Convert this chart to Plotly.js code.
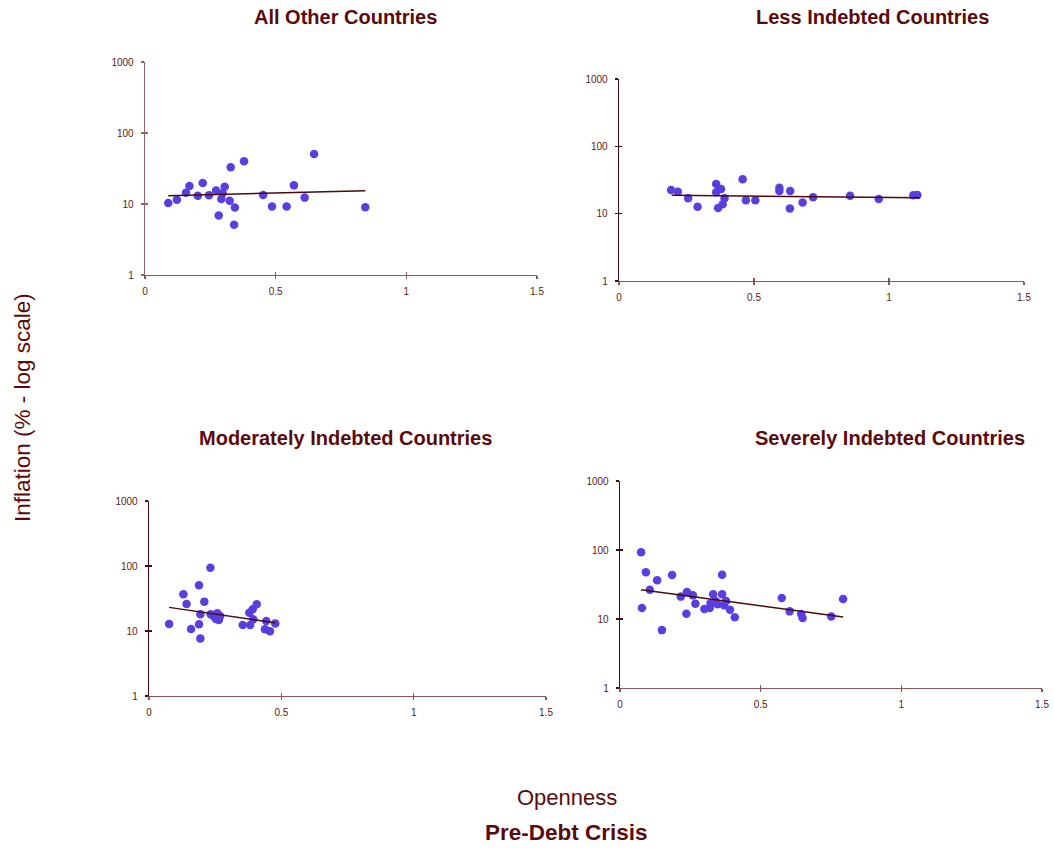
<!DOCTYPE html>
<html>
<head>
<meta charset="utf-8">
<script src="https://cdn.plot.ly/plotly-3.0.1.min.js"></script>
<style>html,body{margin:0;padding:0;background:#fff;}#chart{width:1054px;height:850px;}</style>
</head>
<body>
<div id="chart"></div>
<script>
// Panel titles
const panelTitles = ["All Other Countries", "Less Indebted Countries", "Moderately Indebted Countries", "Severely Indebted Countries"];

// All Other Countries
const otherX = [0.089,0.122,0.157,0.170,0.202,0.221,0.245,0.272,0.282,0.292,0.297,0.305,0.324,0.328,0.341,0.344,0.379,0.452,0.486,0.542,0.570,0.611,0.647,0.843];
const otherY = [10.3,11.5,14.4,17.9,13.1,19.8,13.3,15.5,6.9,11.8,14.2,17.5,11.1,32.9,5.1,8.9,39.9,13.4,9.2,9.2,18.3,12.3,50.6,9.0];
const otherTrendX = [0.089, 0.843];
const otherTrendY = [13.1, 15.4];

// Less Indebted Countries
const lessX = [0.193,0.218,0.256,0.291,0.360,0.378,0.360,0.391,0.384,0.367,0.458,0.470,0.505,0.594,0.594,0.634,0.633,0.680,0.719,0.856,0.962,1.090,1.105];
const lessY = [22.5,21.2,16.9,12.7,27.6,23.2,20.8,16.9,13.8,12.1,32.4,15.8,15.8,24.3,21.7,21.7,11.9,14.6,17.5,18.5,16.5,18.7,18.9];
const lessTrendX = [0.195, 1.115];
const lessTrendY = [18.7, 17.3];

// Moderately Indebted Countries
const modX = [0.076,0.130,0.142,0.159,0.189,0.189,0.194,0.194,0.209,0.232,0.233,0.246,0.258,0.264,0.269,0.253,0.354,0.382,0.379,0.394,0.392,0.407,0.443,0.438,0.457,0.477];
const modY = [12.8,36.7,26.0,10.7,50.5,12.7,7.7,18.1,28.3,94.1,18.1,16.6,18.7,14.8,17.0,15.3,12.4,12.4,19.1,15.1,21.6,25.8,14.2,10.6,9.9,13.1];
const modTrendX = [0.076, 0.477];
const modTrendY = [23.1, 13.4];

// Severely Indebted Countries
const sevX = [0.075,0.078,0.092,0.106,0.132,0.149,0.185,0.216,0.236,0.238,0.259,0.268,0.300,0.319,0.322,0.331,0.340,0.347,0.363,0.363,0.370,0.377,0.391,0.408,0.575,0.603,0.644,0.649,0.751,0.793];
const sevY = [92.5,14.4,47.5,26.6,36.4,6.9,43.4,21.1,11.9,24.6,22.0,16.7,14.0,14.4,16.9,22.8,18.2,16.3,43.9,22.8,15.8,18.2,13.6,10.6,20.2,12.9,11.8,10.3,10.9,19.5];
const sevTrendX = [0.075, 0.793];
const sevTrendY = [26.6, 10.7];

// Axis ticks
const xTickVals = [0, 0.5, 1, 1.5];
const xTickText = ["0", "0.5", "1", "1.5"];
const yTickVals = [1, 10, 100, 1000];
const yTickText = ["1", "10", "100", "1000"];

const W = 1054, H = 850;
// pixel boxes [left, right, top, bottom]
const boxes = [[145,537,62,275],[619,1024,79,281],[149,546,501,696],[620,1042,481,688]];
const titlePos = [[345,17],[872,17],[345,438],[890,438]];
const yAxisColors = ['#946262', '#4a0a12', '#4a0a12', '#4a0a12'];
const xAxisColor = '#8a5656';

const markerColor = '#5a3ee0';
const trendColor = '#4a0a0a';
const textColor = '#5a0a0a';
const FONT = 'Liberation Sans, Arial, sans-serif';

const sets = [
  [otherX, otherY, otherTrendX, otherTrendY],
  [lessX, lessY, lessTrendX, lessTrendY],
  [modX, modY, modTrendX, modTrendY],
  [sevX, sevY, sevTrendX, sevTrendY]
];

const traces = [];
const layout = {
  width: W, height: H,
  margin: {l:0, r:0, t:0, b:0},
  paper_bgcolor: '#fff', plot_bgcolor: '#fff',
  showlegend: false,
  font: {family: FONT, color: textColor},
  annotations: []
};

sets.forEach((s, i) => {
  const n = i + 1;
  const xa = n === 1 ? 'x' : 'x' + n;
  const ya = n === 1 ? 'y' : 'y' + n;
  traces.push({x: s[0], y: s[1], type: 'scatter', mode: 'markers', xaxis: xa, yaxis: ya,
    marker: {color: markerColor, size: 8.5}, cliponaxis: false});
  traces.push({x: s[2], y: s[3], type: 'scatter', mode: 'lines', xaxis: xa, yaxis: ya,
    line: {color: trendColor, width: 1.5}});
  const b = boxes[i];
  const common = {showline: true, linewidth: 1.3, ticks: 'outside', ticklen: 3,
    tickwidth: 1.3, showgrid: false, zeroline: false, fixedrange: true,
    tickfont: {size: 10, color: '#5a1a1a', family: FONT}};
  const xDom = [b[0]/W, b[1]/W];
  const yDom = [1 - b[3]/H, 1 - b[2]/H];
  layout['xaxis' + (n === 1 ? '' : n)] = Object.assign({}, common, {
    domain: xDom, range: [0, 1.5], anchor: ya, linecolor: xAxisColor, tickcolor: xAxisColor,
    tickmode: 'array', tickvals: xTickVals, ticktext: xTickText, ticklabelstandoff: 4});
  layout['yaxis' + (n === 1 ? '' : n)] = Object.assign({}, common, {
    domain: yDom, type: 'log', range: [0, 3], anchor: xa, linecolor: yAxisColors[i], tickcolor: yAxisColors[i],
    tickmode: 'array', tickvals: yTickVals, ticktext: yTickText, ticklabelstandoff: 5});
  // overlay axes for inside half of the crossing tick marks
  const ox = 'xaxis' + (n + 4), oy = 'yaxis' + (n + 4);
  layout[ox] = {domain: xDom, range: [0, 1.5], overlaying: xa, anchor: ya, side: 'bottom',
    tickmode: 'array', tickvals: xTickVals, ticks: 'inside', ticklen: 3, tickwidth: 1.3, tickcolor: xAxisColor,
    showticklabels: false, showline: false, showgrid: false, zeroline: false, fixedrange: true};
  layout[oy] = {domain: yDom, type: 'log', range: [0, 3], overlaying: ya, anchor: xa, side: 'left',
    tickmode: 'array', tickvals: yTickVals, ticks: 'inside', ticklen: 3, tickwidth: 1.3, tickcolor: yAxisColors[i],
    showticklabels: false, showline: false, showgrid: false, zeroline: false, fixedrange: true};
  traces.push({x: [], y: [], type: 'scatter', mode: 'markers', xaxis: 'x' + (n + 4), yaxis: 'y' + (n + 4), hoverinfo: 'skip'});
  layout.annotations.push({text: '<b>' + panelTitles[i] + '</b>', xref: 'paper', yref: 'paper',
    x: titlePos[i][0]/W, y: 1 - titlePos[i][1]/H, xanchor: 'center', yanchor: 'middle', showarrow: false,
    font: {size: 20, color: textColor, family: FONT}});
});

layout.annotations.push({text: 'Inflation (% - log scale)', xref: 'paper', yref: 'paper',
  x: 22/W, y: 1 - 408/H, textangle: -90, xanchor: 'center', yanchor: 'middle', showarrow: false,
  font: {size: 22.5, color: textColor}});
layout.annotations.push({text: 'Openness', xref: 'paper', yref: 'paper',
  x: 567/W, y: 1 - 797/H, xanchor: 'center', yanchor: 'middle', showarrow: false,
  font: {size: 22, color: textColor}});
layout.annotations.push({text: '<b>Pre-Debt Crisis</b>', xref: 'paper', yref: 'paper',
  x: 566/W, y: 1 - 832/H, xanchor: 'center', yanchor: 'middle', showarrow: false,
  font: {size: 22.5, color: textColor}});

Plotly.newPlot('chart', traces, layout, {displayModeBar: false, staticPlot: true});
</script>
</body>
</html>
